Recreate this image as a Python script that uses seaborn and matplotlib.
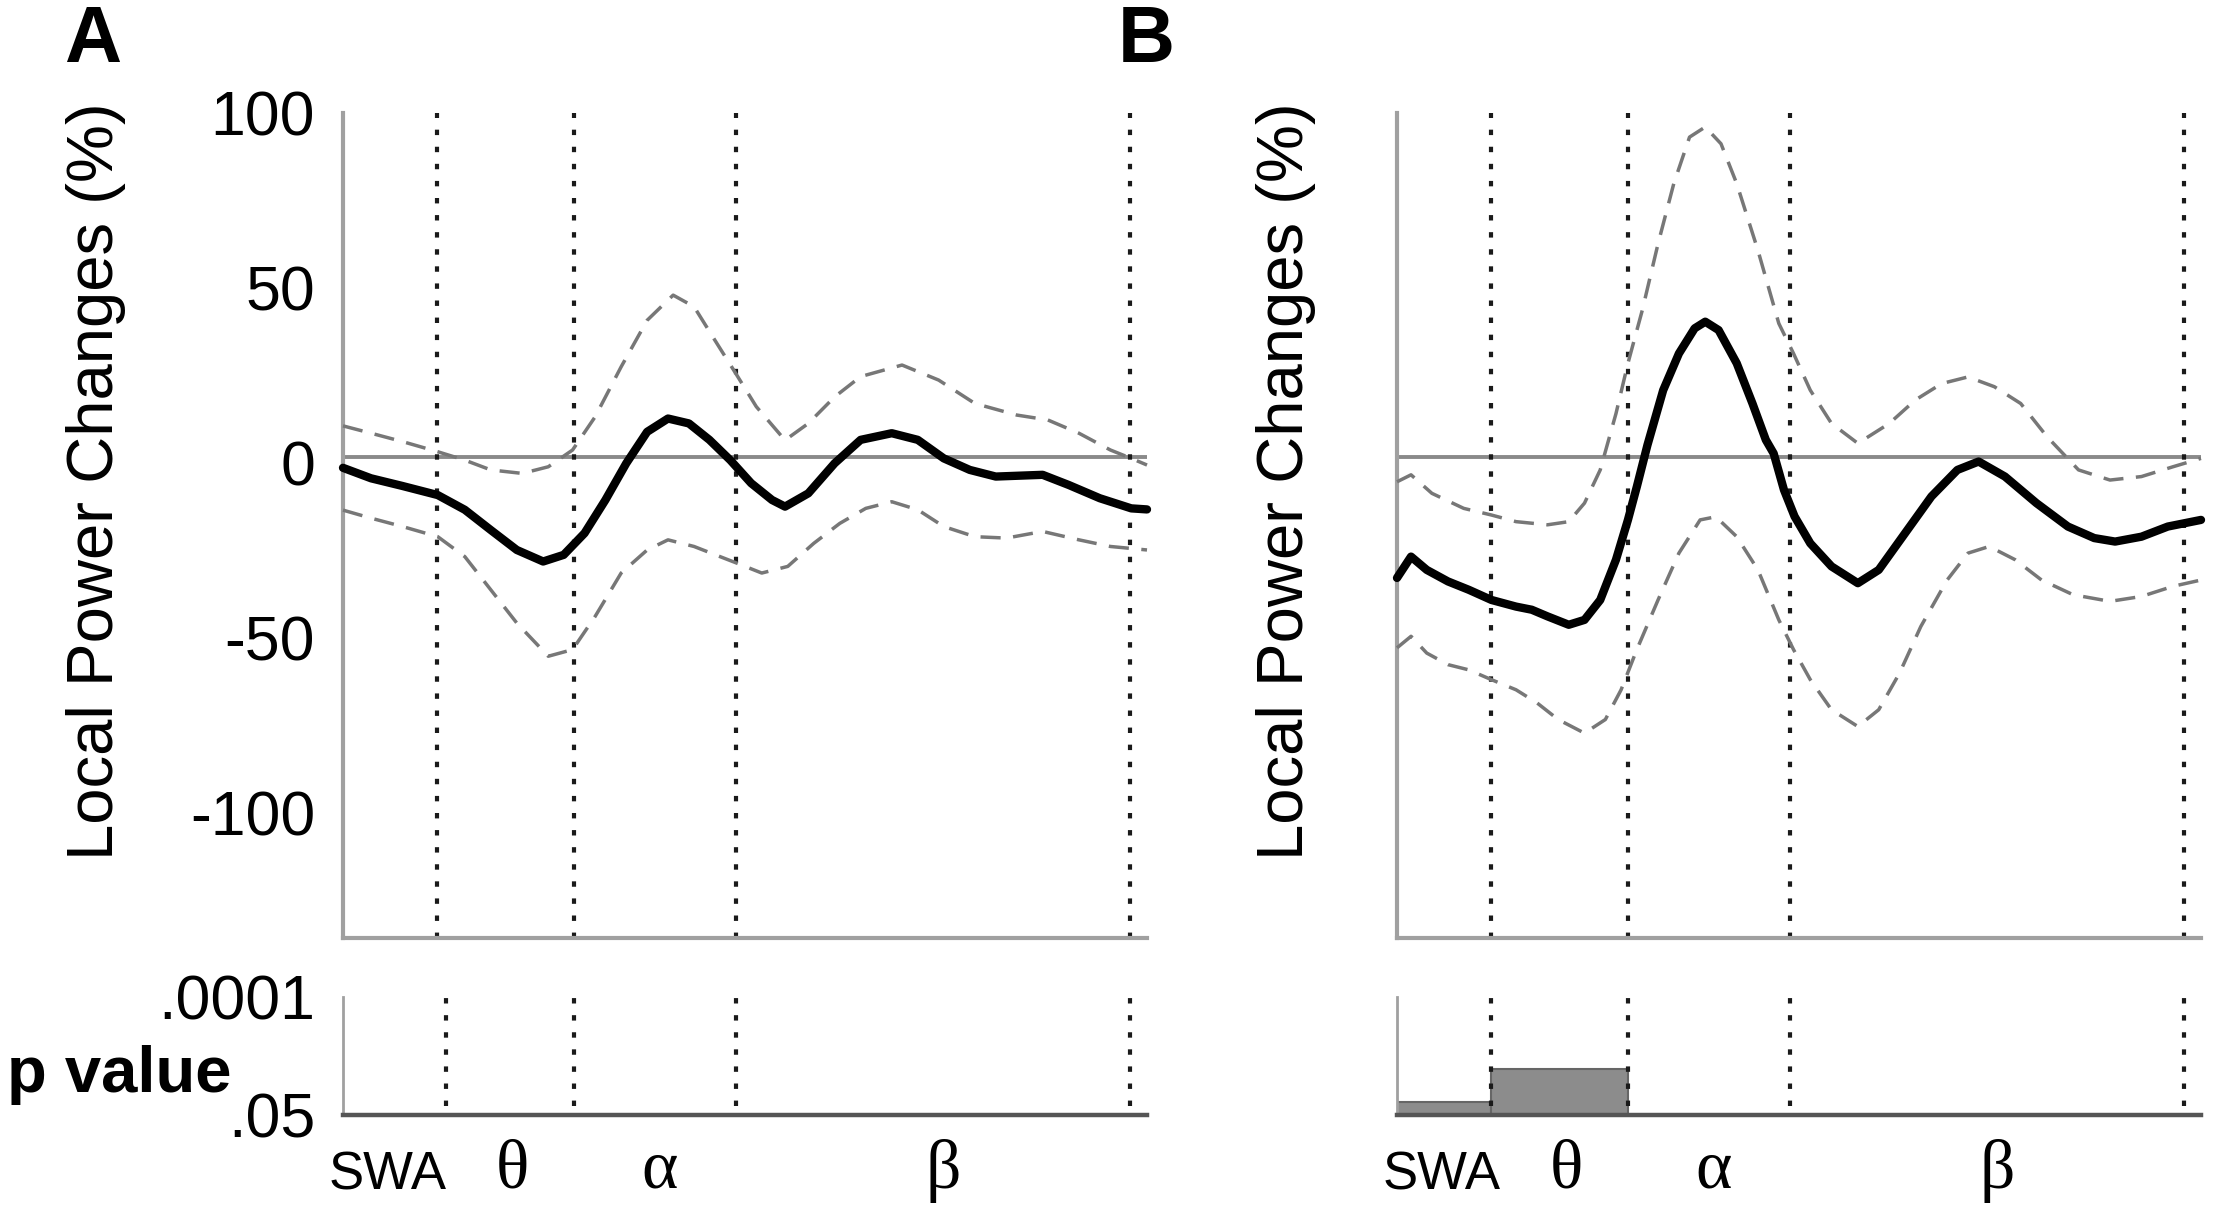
import numpy as np
import pandas as pd
import matplotlib
matplotlib.use("Agg")
import matplotlib.pyplot as plt
import seaborn as sns
from matplotlib.ticker import MultipleLocator
from matplotlib.transforms import blended_transform_factory

# Frequency bands: lower / upper edges (Hz) and label positions
band_names = ["SWA", "θ", "α", "β"]
band_lo = [1.25, 4.0, 8.0, 12.75]
band_hi = [4.0, 8.0, 12.75, 24.25]
band_label_x = [2.55, 6.2, 10.5, 18.8]
edges_main = [4.0, 8.0, 12.75, 24.25]
edges_p_A = [4.25, 8.0, 12.75, 24.25]
edges_p_B = [4.0, 8.0, 12.75, 24.25]
baseline = 1.6

# Panel A: mean local power change and confidence bounds (%)
freq_A_mean = [1.25, 2.07, 2.99, 4.02, 4.81, 5.57, 6.33, 7.1, 7.7, 8.31, 8.92, 9.53, 10.14,
               10.75, 11.36, 11.96, 12.57, 13.18, 13.79, 14.17, 14.85, 15.62, 16.38, 17.29,
               18.05, 18.81, 19.57, 20.33, 21.7, 22.46, 23.37, 24.29, 24.75]
mean_A = [-1.5, -4.5, -6.7, -9.3, -13.5, -19.3, -25, -28.3, -26.4, -20.2, -10.7, -0.2, 8.8,
          12.6, 11.2, 6.5, 0.7, -5.9, -10.7, -12.6, -8.8, -0.2, 6.5, 8.4,
          6.5, 1.2, -2.1, -4, -3.5, -6.4, -10.2, -13.1, -13.4]
freq_A_upper = [1.25, 2.07, 2.99, 4.02, 4.81, 5.57, 6.49, 7.25, 7.96, 8.62, 9.38, 10.14, 10.9,
                11.51, 12.12, 12.73, 13.33, 14.17, 14.85, 15.62, 16.38, 17.59, 18.66, 19.72,
                20.94, 21.85, 22.76, 23.68, 24.29, 24.75]
upper_A = [10.5, 8.4, 6, 3.1, 0.7, -2.1, -3.1, -1.2, 3.6, 13.1, 27.4, 40.7, 47.9,
           44.6, 35, 25.5, 16, 6.4, 11.2, 18.8, 24.6, 27.9, 23.6, 16.9,
           13.6, 12.2, 8.4, 3.6, 1.2, -0.7]
freq_A_lower = [1.25, 2.07, 2.99, 4.02, 4.81, 5.57, 6.33, 7.25, 7.96, 8.62, 9.38, 10.14, 10.75,
                11.51, 12.27, 12.77, 13.49, 14.25, 15.01, 15.77, 16.53, 17.29, 18.05, 18.81,
                19.72, 20.64, 21.7, 22.76, 23.68, 24.75]
lower_A = [-13.6, -15.9, -18.3, -21.2, -26.9, -36.4, -45.9, -55.4, -53.5, -44, -31.6, -25, -22.1,
           -24, -26.9, -28.8, -31.6, -29.7, -23.1, -17.4, -13.1, -11.2, -13.5, -18.3,
           -21.2, -21.6, -19.7, -22.1, -24, -25]

# Panel B
freq_B_mean = [1.25, 1.66, 2.12, 2.74, 3.35, 4.01, 4.73, 5.19, 5.65, 6.27, 6.73, 7.19, 7.65,
               8.0, 8.26, 8.57, 9.03, 9.49, 9.95, 10.26, 10.65, 11.18, 11.64, 12.03, 12.26,
               12.56, 12.87, 13.33, 13.95, 14.72, 15.33, 16.1, 16.87, 17.63, 18.25, 19.02,
               19.94, 20.86, 21.63, 22.24, 23.01, 23.78, 24.75]
mean_B = [-33, -26.9, -30.7, -34, -36.4, -39.3, -41.2, -42.1, -44, -46.4, -45, -39.3, -27.8,
          -16.4, -6.9, 5, 20.7, 31.2, 38.4, 40.3, 37.9, 28.4, 16.9, 6.5, 2.6,
          -7.8, -15.4, -23.1, -29.7, -34.5, -30.7, -20.2, -9.7, -2.1, 0.3, -4,
          -11.6, -18.3, -21.6, -22.6, -21.2, -18.3, -16.4]
freq_B_upper = [1.25, 1.66, 2.27, 3.2, 4.01, 4.73, 5.65, 6.27, 6.73, 7.19, 7.65, 8.0, 8.42,
                8.88, 9.34, 9.8, 10.26, 10.72, 11.18, 11.8, 12.41, 12.84, 13.33, 13.95, 14.72,
                15.64, 16.4, 17.17, 17.94, 18.71, 19.48, 20.25, 21.17, 22.09, 23.01, 23.93, 24.75]
upper_B = [-5.5, -3.5, -8.8, -13.1, -15, -16.9, -17.8, -16.9, -11.6, -2.1, 14, 28.4, 43.6,
           62.6, 79.8, 93.1, 96, 91.2, 79.8, 60.7, 39.8, 31.2, 20.7, 11.2, 5.5,
           11.2, 17.9, 22.6, 24.5, 21.7, 16.9, 7.4, -2.1, -5, -4, -1.2, 1.2]
freq_B_lower = [1.25, 1.66, 2.12, 2.74, 3.35, 4.01, 4.73, 5.35, 5.96, 6.73, 7.34, 7.8, 8.26,
                8.88, 9.49, 10.11, 10.57, 11.18, 11.8, 12.41, 12.84, 13.33, 13.95, 14.72, 15.33,
                15.94, 16.56, 17.33, 17.94, 18.56, 19.32, 20.09, 21.01, 22.09, 23.01, 23.93, 24.75]
lower_B = [-53, -49.7, -54.5, -57.8, -59.3, -62.1, -65, -68.8, -73.5, -77.4, -73.5, -65, -53.5,
           -39.3, -25.9, -16.4, -15.5, -21.2, -30.7, -45, -53.5, -62.1, -70.7, -75.5, -70.7,
           -60.2, -46.9, -33.6, -25.9, -24, -27.8, -33.6, -37.8, -39.7, -38.3, -35.4, -33.6]

# p values per band (1.0 = not significant)
p_A = [1.0, 1.0, 1.0, 1.0]
p_B = [0.025, 0.0044, 1.0, 1.0]

sns.set_style("white")
plt.rcParams["font.family"] = ["Liberation Sans", "DejaVu Sans"]
plt.rcParams["axes.unicode_minus"] = False
plt.rcParams["text.color"] = "black"

W, H = 2217, 1213
fig = plt.figure(figsize=(W / 100, H / 100), dpi=100)


def fx(px):
    return px / W


def fy(py):
    return 1 - py / H


p_lo, p_hi = -np.log10(0.05), 4.0

panels = [
    ("A", 343, 96, (freq_A_mean, mean_A), (freq_A_upper, upper_A), (freq_A_lower, lower_A), p_A, edges_p_A, True),
    ("B", 1397, 1286, (freq_B_mean, mean_B), (freq_B_upper, upper_B), (freq_B_lower, lower_B), p_B, edges_p_B, False),
]

for letter, left, ylab_x, mean, upper, lower, pvals, edges_p, show_labels in panels:
    ax = fig.add_axes([fx(left), fy(938), 804 / W, 825 / H])
    axp = fig.add_axes([fx(left), fy(1115), 804 / W, 118 / H])

    # main panel
    ax.axhline(baseline, color="#8a8a8a", lw=2.8, zorder=1)
    for e in edges_main:
        ax.axvline(e, color="#1a1a1a", lw=3, linestyle=(0, (1.3, 2.8)), zorder=2)
    for fr, vals in (upper, lower):
        sns.lineplot(x=fr, y=vals, ax=ax, color="#777777", linewidth=2.5,
                     linestyle=(0, (5.8, 3.6)), clip_on=False, zorder=3)
    sns.lineplot(x=mean[0], y=mean[1], ax=ax, color="black", linewidth=6,
                 solid_joinstyle="round", solid_capstyle="round", clip_on=False, zorder=4)

    ax.set_xlim(1.25, 24.75)
    ax.set_ylim(-136, 100)
    ax.set_xticks([])
    ax.set_yticks([-100, -50, 0, 50, 100])
    ax.yaxis.set_minor_locator(MultipleLocator(10))
    ax.tick_params(axis="y", which="both", direction="in", length=4, width=1.5,
                   color="#999999", labelcolor="black", labelsize=45, pad=20,
                   labelleft=show_labels)
    ax.set_xlabel("")
    ax.set_ylabel("")
    for s in ("top", "right"):
        ax.spines[s].set_visible(False)
    for s in ("left", "bottom"):
        ax.spines[s].set_color("#a0a0a0")
        ax.spines[s].set_linewidth(3)

    fig.text(fx(ylab_x), fy(481), "Local Power Changes (%)", rotation=90,
             ha="center", va="center", fontsize=47)
    fig.text(fx(left - 279), fy(62), letter, fontsize=57, fontweight="bold", va="baseline")

    # p value panel
    for lo, hi, p in zip(band_lo, band_hi, pvals):
        if p < 0.05:
            axp.bar(lo, -np.log10(p) - p_lo, width=hi - lo, bottom=p_lo, align="edge",
                    color="#8c8c8c", edgecolor="#666666", linewidth=1.5, zorder=2)
    for e in edges_p:
        axp.axvline(e, ymin=0.08, ymax=1, color="#1a1a1a", lw=3,
                    linestyle=(0, (1.3, 2.8)), zorder=3)
    axp.set_xlim(1.25, 24.75)
    axp.set_ylim(p_lo, p_hi)
    axp.set_xticks([])
    axp.set_yticks([p_lo, p_hi])
    axp.set_yticklabels([".05", ".0001"])
    axp.set_yticks(np.linspace(p_lo, p_hi, 6), minor=True)
    axp.tick_params(axis="y", which="both", direction="in", length=4, width=1.5,
                    color="#999999", labelcolor="black", labelsize=45, pad=20,
                    labelleft=show_labels)
    for s in ("top", "right"):
        axp.spines[s].set_visible(False)
    axp.spines["left"].set_color("#a0a0a0")
    axp.spines["left"].set_linewidth(2)
    axp.spines["bottom"].set_color("#555555")
    axp.spines["bottom"].set_linewidth(3.2)

    # band labels under the axis
    tr = blended_transform_factory(axp.transData, fig.transFigure)
    for name, xpos in zip(band_names, band_label_x):
        if name == "SWA":
            axp.text(xpos, fy(1190), name, transform=tr, ha="center", va="baseline",
                     fontsize=38)
        else:
            axp.text(xpos, fy(1188), name, transform=tr, ha="center", va="baseline",
                     fontsize=50, family=["Liberation Serif", "DejaVu Serif"])

    if show_labels:
        fig.text(fx(7), fy(1092), "p value", fontsize=47, fontweight="bold", va="baseline")

fig.savefig("out.png", dpi=100)
